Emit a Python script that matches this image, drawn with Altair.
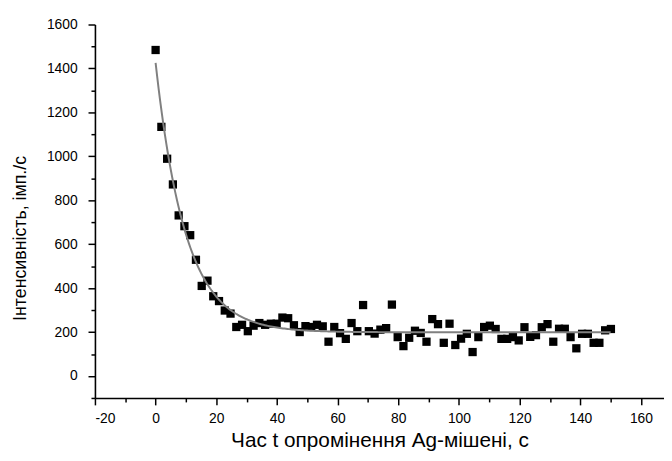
import altair as alt
import pandas as pd

# Measured data (time, s ; intensity, imp/s)
time_s = [0.0, 1.9, 3.8, 5.7, 7.6, 9.5, 11.4, 13.3, 15.2, 17.1,
          19.0, 20.9, 22.8, 24.7, 26.6, 28.5, 30.4, 32.3, 34.2, 36.1,
          38.0, 39.9, 41.8, 43.7, 45.6, 47.5, 49.4, 51.3, 53.2, 55.1,
          57.0, 58.9, 60.8, 62.7, 64.6, 66.5, 68.4, 70.3, 72.2, 74.1,
          76.0, 77.9, 79.8, 81.7, 83.6, 85.5, 87.4, 89.3, 91.2, 93.1,
          95.0, 96.9, 98.8, 100.7, 102.6, 104.5, 106.4, 108.3, 110.2, 112.1,
          114.0, 115.9, 117.8, 119.7, 121.6, 123.5, 125.4, 127.3, 129.2, 131.1,
          133.0, 134.9, 136.8, 138.7, 140.6, 142.5, 144.4, 146.3, 148.2, 150.1]
intensity = [1484, 1134, 989, 872, 731, 682, 641, 529, 410, 434,
             363, 341, 298, 284, 223, 233, 204, 229, 241, 233,
             238, 238, 266, 263, 231, 200, 227, 223, 233, 226,
             156, 223, 195, 169, 241, 204, 323, 204, 193, 211,
             218, 325, 177, 136, 174, 206, 196, 156, 259, 236,
             151, 238, 141, 170, 192, 109, 177, 223, 229, 214,
             169, 169, 177, 162, 222, 178, 186, 222, 236, 156,
             215, 215, 177, 126, 192, 192, 151, 151, 208, 214]

# Exponential-decay fit parameters
fit_y0 = 199
fit_A = 1226
fit_tau = 9.9
fit_t_start = 0
fit_t_end = 150

x_ticks = list(range(-20, 161, 10))
y_ticks = list(range(-100, 1601, 100))

df = pd.DataFrame({"t": time_s, "v": intensity})

FONT = "Liberation Sans"

x_scale = alt.Scale(domain=[-20, 167.6], nice=False, zero=False)
y_scale = alt.Scale(domain=[-100, 1600], nice=False, zero=False)

x_axis = alt.Axis(
    title="Час t опромінення Ag-мішені, с",
    values=x_ticks,
    labelExpr="datum.value % 20 === 0 ? '' + datum.value : ''",
    labelOverlap=False,
    tickSize={"condition": {"test": "datum.value % 20 === 0", "value": 7}, "value": 4},
    grid=False,
    domainColor="black", domainWidth=1.6,
    tickColor="black", tickWidth=1.5,
    labelFont=FONT, labelFontSize=14, labelColor="black", labelPadding=7,
    titleFont=FONT, titleFontSize=21, titleFontWeight="normal", titleColor="black",
    titlePadding=4,
)
y_axis = alt.Axis(
    title="Інтенсивність, імп./с",
    values=y_ticks,
    labelExpr="abs(datum.value) % 200 < 1 ? '' + datum.value : ''",
    labelOverlap=False,
    tickSize={"condition": {"test": "abs(datum.value) % 200 < 1", "value": 7}, "value": 4},
    grid=False,
    domainColor="black", domainWidth=1.6,
    tickColor="black", tickWidth=1.5,
    labelFont=FONT, labelFontSize=14, labelColor="black", labelPadding=11,
    titleFont=FONT, titleFontSize=18, titleFontWeight="normal", titleColor="black",
    titlePadding=17, titleY=216,
)

points = alt.Chart(df).mark_point(
    shape="square", filled=True, size=70, color="black", opacity=1
).encode(
    x=alt.X("t:Q", scale=x_scale, axis=x_axis),
    y=alt.Y("v:Q", scale=y_scale, axis=y_axis),
)

curve = alt.Chart(
    alt.sequence(fit_t_start, fit_t_end + 0.01, 0.5, as_="t")
).transform_calculate(
    v=f"{fit_y0} + {fit_A} * exp(-datum.t / {fit_tau})"
).mark_line(color="#808080", strokeWidth=2).encode(
    x=alt.X("t:Q", scale=x_scale, axis=x_axis),
    y=alt.Y("v:Q", scale=y_scale, axis=y_axis),
)

chart = alt.layer(points, curve).properties(
    width=576, height=378,
    autosize=alt.AutoSizeParams(type="none"),
    padding={"left": 88, "top": 14, "right": 0, "bottom": 53},
    background="white",
).configure_view(stroke=None, strokeWidth=0)

chart.save("out.html", embed_options={"renderer": "svg", "actions": False})
